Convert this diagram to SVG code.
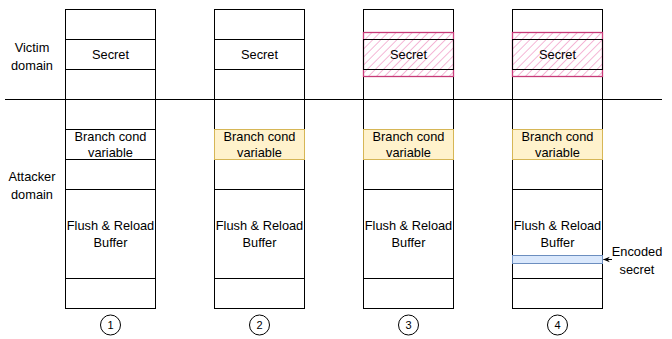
<svg xmlns="http://www.w3.org/2000/svg" width="672" height="339" viewBox="0 0 672 339">
  <style>
    .cell { fill: #ffffff; stroke: #000000; stroke-width: 1; }
    .frame { fill: none; stroke: #000000; stroke-width: 1; }
    .cond { fill: #fff2cc; stroke: #d6b656; stroke-width: 1; }
    .enc { fill: #dae8fc; stroke: #6c8ebf; stroke-width: 1; }
    .hatch { fill: url(#hatchPink); stroke: #c73b78; stroke-width: 1.3; }
    .lbl { font-family: "Liberation Sans", Arial, Helvetica, sans-serif; font-size: 12.8px; fill: #000000; text-anchor: middle; }
    .num { font-family: "Liberation Sans", Arial, Helvetica, sans-serif; font-size: 11px; fill: #000000; text-anchor: middle; }
    .ring { fill: #ffffff; stroke: #000000; stroke-width: 1; }
    .line { stroke: #000000; stroke-width: 1; fill: none; }
  </style>
  <defs>
    <pattern id="hatchPink" patternUnits="userSpaceOnUse" width="5.7" height="5.7" patternTransform="rotate(45)">
      <line x1="0" y1="0" x2="0" y2="5.7" stroke="#ee88bb" stroke-width="1.2"/>
    </pattern>
    <marker id="arrowHead" viewBox="0 0 10 10" refX="9" refY="5" markerWidth="7" markerHeight="7" orient="auto">
      <path d="M0,1 L10,5 L0,9 L3,5 Z" fill="#000000"/>
    </marker>
    <!-- one memory column: stacked cells -->
    <g id="colCells">
      <rect class="cell" x="0" y="9.5" width="90" height="30"/>
      <rect class="cell" x="0" y="39.5" width="90" height="30"/>
      <rect class="cell" x="0" y="69.5" width="90" height="60"/>
      <rect class="cell" x="0" y="129.5" width="90" height="30"/>
      <rect class="cell" x="0" y="159.5" width="90" height="30"/>
      <rect class="cell" x="0" y="189.5" width="90" height="89"/>
      <rect class="cell" x="0" y="278.5" width="90" height="30"/>
    </g>
  </defs>

  <!-- domain labels -->
  <g id="domain-labels">
    <text class="lbl" x="32" y="52">Victim</text>
    <text class="lbl" x="32" y="70">domain</text>
    <text class="lbl" x="32" y="181">Attacker</text>
    <text class="lbl" x="32" y="199">domain</text>
  </g>

  <!-- column 1 -->
  <g id="column1" transform="translate(65.5,0)">
    <use href="#colCells"/>
    <text class="lbl" x="45" y="59">Secret</text>
    <text class="lbl" x="45" y="141">Branch cond</text>
    <text class="lbl" x="45" y="157">variable</text>
    <text class="lbl" x="45" y="230">Flush &amp; Reload</text>
    <text class="lbl" x="45" y="247">Buffer</text>
  </g>

  <!-- column 2 -->
  <g id="column2" transform="translate(214.5,0)">
    <use href="#colCells"/>
    <rect class="cond" x="0" y="129.5" width="90" height="30"/>
    <text class="lbl" x="45" y="59">Secret</text>
    <text class="lbl" x="45" y="141">Branch cond</text>
    <text class="lbl" x="45" y="157">variable</text>
    <text class="lbl" x="45" y="230">Flush &amp; Reload</text>
    <text class="lbl" x="45" y="247">Buffer</text>
  </g>

  <!-- column 3 -->
  <g id="column3" transform="translate(363.5,0)">
    <use href="#colCells"/>
    <rect class="cond" x="0" y="129.5" width="90" height="30"/>
    <rect class="hatch" x="0" y="32.5" width="90" height="44"/>
    <rect class="frame" x="0" y="39.5" width="90" height="30"/>
    <text class="lbl" x="45" y="59">Secret</text>
    <text class="lbl" x="45" y="141">Branch cond</text>
    <text class="lbl" x="45" y="157">variable</text>
    <text class="lbl" x="45" y="230">Flush &amp; Reload</text>
    <text class="lbl" x="45" y="247">Buffer</text>
  </g>

  <!-- column 4 -->
  <g id="column4" transform="translate(512.5,0)">
    <use href="#colCells"/>
    <rect class="cond" x="0" y="129.5" width="90" height="30"/>
    <rect class="hatch" x="0" y="32.5" width="90" height="44"/>
    <rect class="frame" x="0" y="39.5" width="90" height="30"/>
    <rect class="enc" x="0" y="255.5" width="90" height="8"/>
    <text class="lbl" x="45" y="59">Secret</text>
    <text class="lbl" x="45" y="141">Branch cond</text>
    <text class="lbl" x="45" y="157">variable</text>
    <text class="lbl" x="45" y="230">Flush &amp; Reload</text>
    <text class="lbl" x="45" y="247">Buffer</text>
  </g>

  <!-- step numbers -->
  <g id="step1"><circle class="ring" cx="110.5" cy="325" r="10"/><text class="num" x="110.5" y="329">1</text></g>
  <g id="step2"><circle class="ring" cx="259.5" cy="325" r="10"/><text class="num" x="259.5" y="329">2</text></g>
  <g id="step3"><circle class="ring" cx="408.5" cy="325" r="10"/><text class="num" x="408.5" y="329">3</text></g>
  <g id="step4"><circle class="ring" cx="557.5" cy="325" r="10"/><text class="num" x="557.5" y="329">4</text></g>

  <g id="encoded-label">
    <text class="lbl" x="637" y="256">Encoded</text>
    <text class="lbl" x="637" y="274">secret</text>
  </g>

  <!-- connectors -->
  <g id="connectors">
    <line class="line" x1="5" y1="99.5" x2="662" y2="99.5"/>
    <line class="line" x1="612" y1="259.5" x2="603.5" y2="259.5" marker-end="url(#arrowHead)"/>
  </g>
</svg>
